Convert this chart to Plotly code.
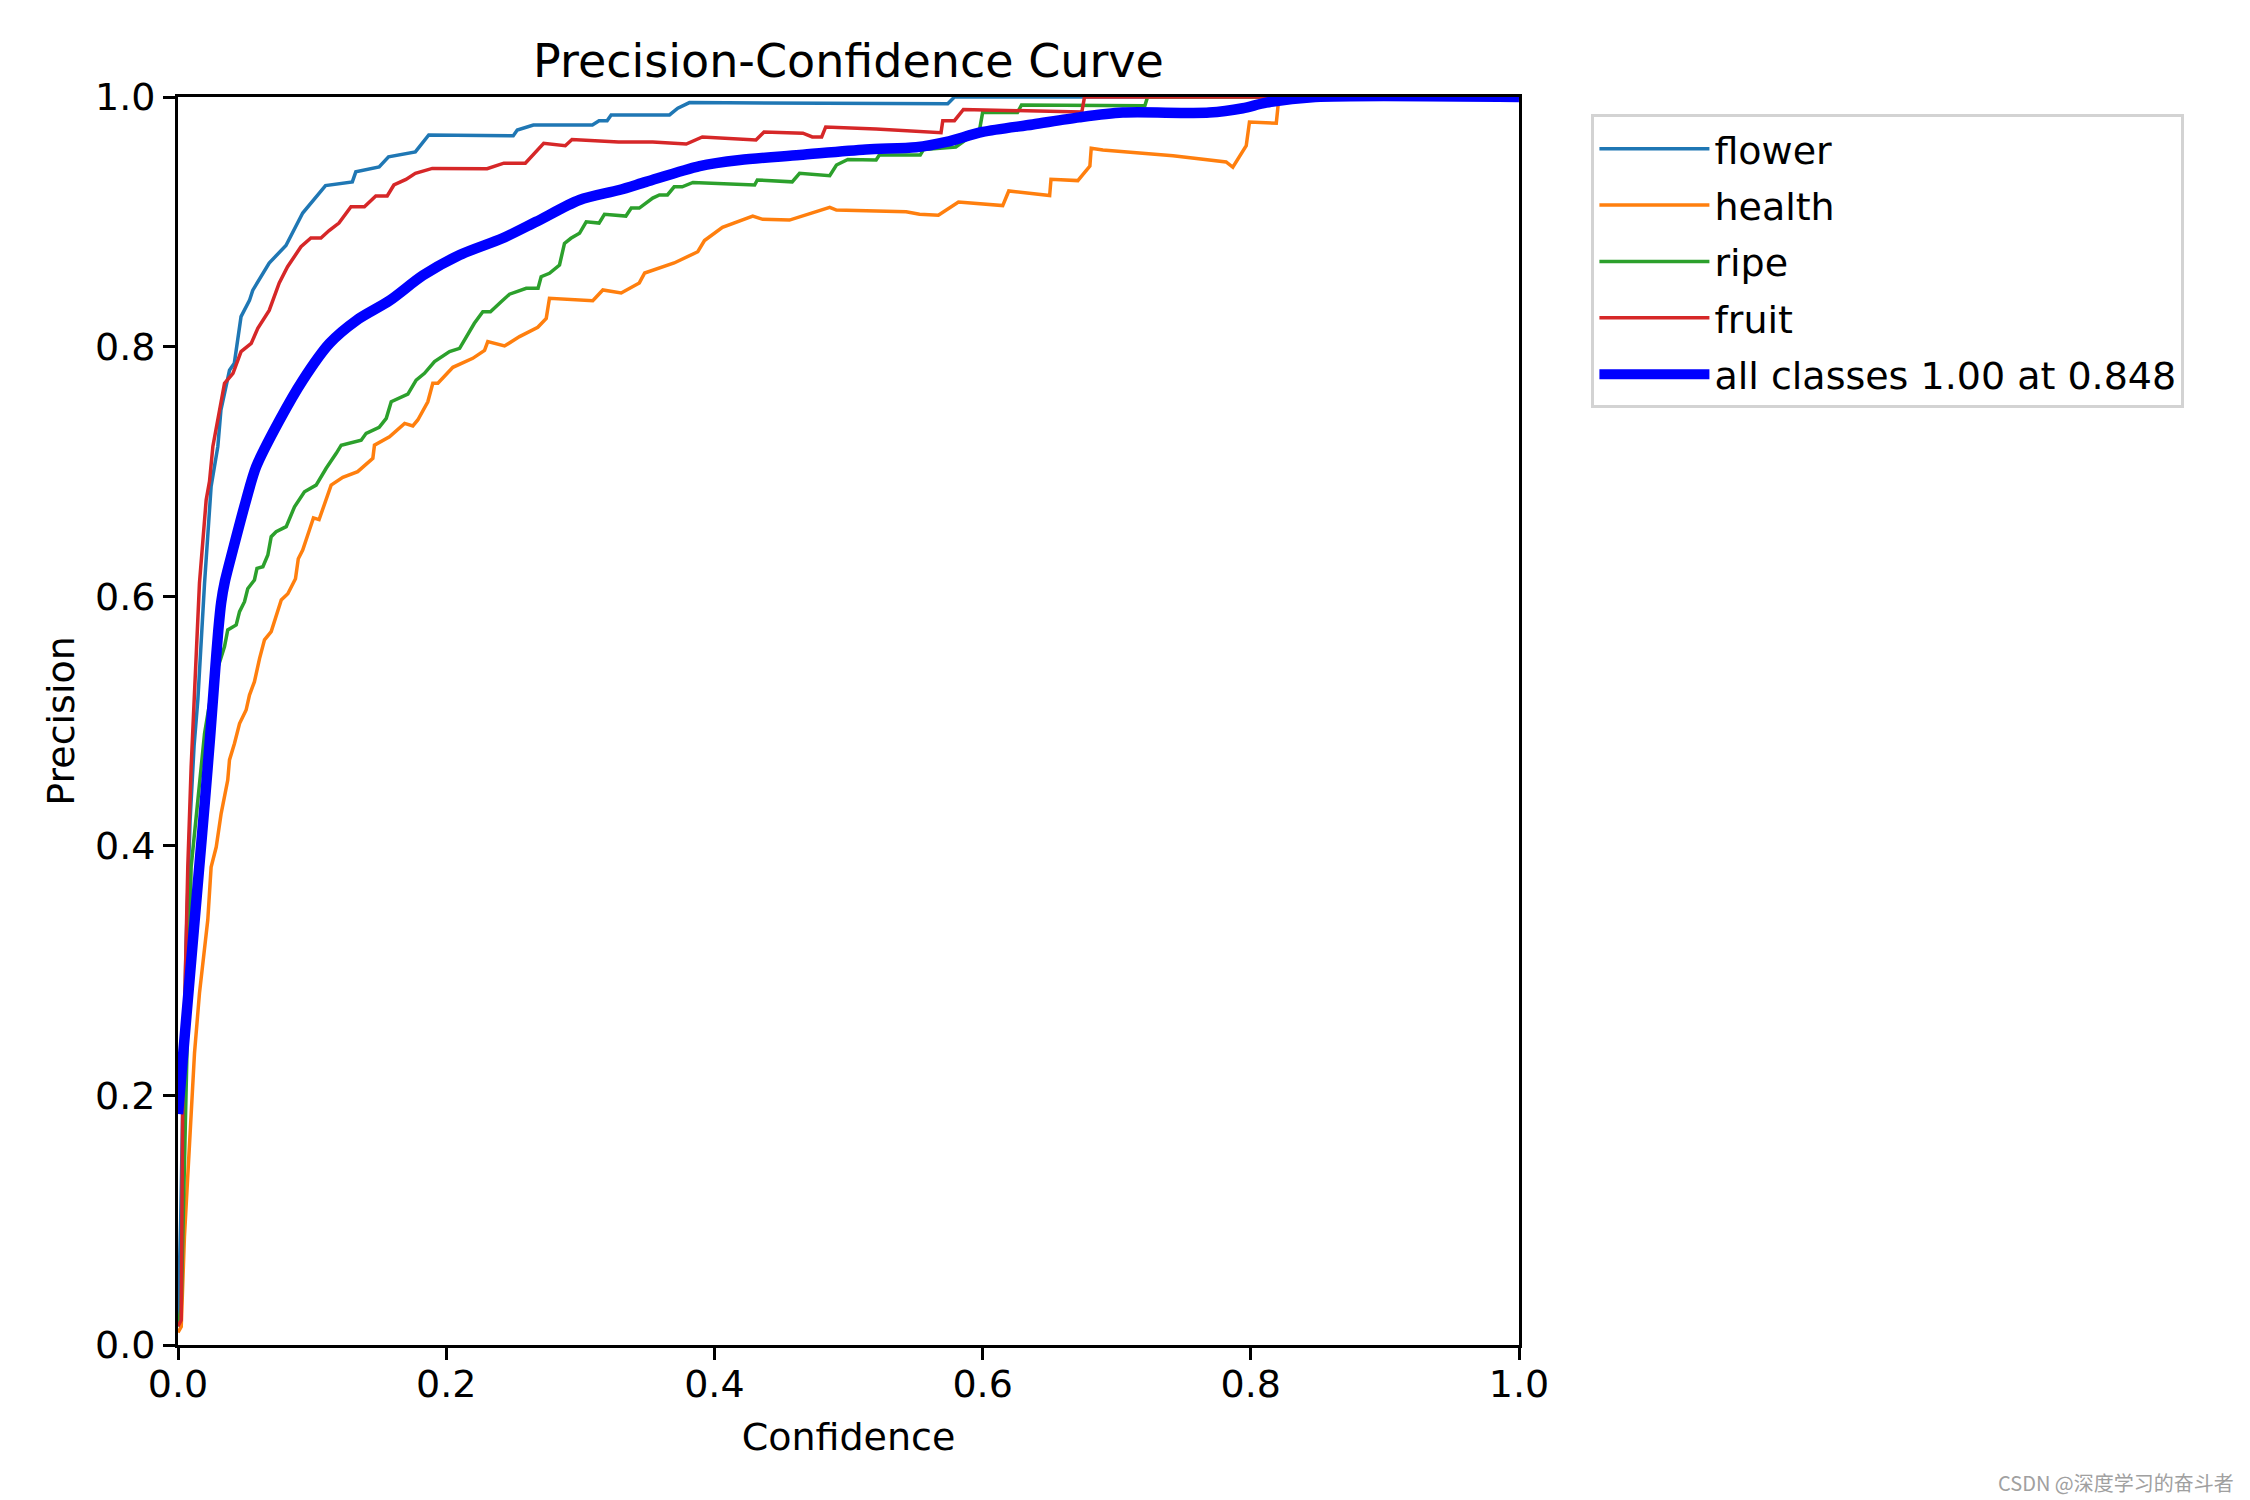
import plotly.graph_objects as go

# precision vs confidence
flower_x = [0.0, 0.002, 0.004, 0.006, 0.009, 0.012, 0.0148, 0.0198, 0.0247, 0.0297, 0.032, 0.0384, 0.042, 0.047,
            0.0533, 0.0557, 0.068, 0.0805, 0.093, 0.110, 0.130, 0.1326, 0.150, 0.157, 0.177, 0.187, 0.250, 0.253,
            0.265, 0.309, 0.314, 0.320, 0.323, 0.3665, 0.3727, 0.3814, 0.574, 0.579, 1.0]
flower_y = [0.015, 0.10, 0.22, 0.32, 0.42, 0.48, 0.517, 0.6105, 0.688, 0.720, 0.749, 0.781, 0.7866, 0.824,
            0.837, 0.845, 0.867, 0.881, 0.907, 0.929, 0.932, 0.940, 0.944, 0.952, 0.956, 0.9696, 0.969, 0.9735,
            0.9776, 0.9776, 0.981, 0.981, 0.9856, 0.9856, 0.991, 0.9955, 0.9946, 1.0, 1.0]

health_x = [0.0, 0.0024, 0.0048, 0.0086, 0.0123, 0.016, 0.0222, 0.0247, 0.0285, 0.0322, 0.0371, 0.0384, 0.0421,
            0.0459, 0.0508, 0.0533, 0.057, 0.0608, 0.0645, 0.0695, 0.0732, 0.077, 0.0819, 0.0876, 0.0897, 0.093,
            0.098, 0.101, 0.1052, 0.1092, 0.1142, 0.1229, 0.134, 0.1453, 0.1465, 0.1577, 0.169, 0.1751, 0.1788,
            0.1863, 0.190, 0.1938, 0.205, 0.2198, 0.2286, 0.231, 0.2435, 0.2547, 0.2683, 0.2746, 0.277, 0.3093,
            0.3168, 0.3305, 0.344, 0.348, 0.370, 0.3876, 0.3926, 0.406, 0.4286, 0.436, 0.456, 0.486, 0.491, 0.543,
            0.553, 0.567, 0.582, 0.615, 0.6195, 0.650, 0.651, 0.671, 0.680, 0.681, 0.6897, 0.742, 0.7705, 0.7816,
            0.7866, 0.7966, 0.799, 0.819, 0.821, 1.0]
health_y = [0.01, 0.0147, 0.0868, 0.167, 0.2337, 0.2818, 0.3405, 0.383, 0.399, 0.426, 0.4527, 0.4688, 0.482,
            0.498, 0.5088, 0.5208, 0.5315, 0.550, 0.565, 0.5716, 0.585, 0.597, 0.602, 0.614, 0.630, 0.637,
            0.653, 0.6627, 0.6613, 0.6744, 0.689, 0.6952, 0.6998, 0.7105, 0.721, 0.7278, 0.7385, 0.7364, 0.7412,
            0.7558, 0.7706, 0.7706, 0.7834, 0.7906, 0.797, 0.804, 0.8005, 0.808, 0.8155, 0.8226, 0.8387, 0.8368,
            0.8454, 0.843, 0.851, 0.859, 0.867, 0.876, 0.885, 0.8956, 0.9046, 0.902, 0.9014, 0.9116, 0.9094, 0.908,
            0.906, 0.9052, 0.9159, 0.913, 0.9247, 0.921, 0.934, 0.933, 0.9447, 0.959, 0.9575, 0.953, 0.949, 0.948,
            0.9437, 0.961, 0.980, 0.979, 1.0, 1.0]

ripe_x = [0.0, 0.0024, 0.0098, 0.016, 0.0198, 0.026, 0.0347, 0.0371, 0.0434, 0.0459, 0.0496, 0.052, 0.057, 0.0589,
          0.0633, 0.067, 0.0695, 0.0732, 0.0807, 0.0869, 0.0943, 0.103, 0.1105, 0.118, 0.1217, 0.1366, 0.1403,
          0.150, 0.1553, 0.159, 0.1714, 0.1776, 0.1838, 0.1913, 0.2025, 0.210, 0.215, 0.221, 0.2273, 0.233, 0.241,
          0.2472, 0.2597, 0.2685, 0.2708, 0.277, 0.2845, 0.2882, 0.293, 0.2994, 0.3044, 0.314, 0.318, 0.334, 0.338,
          0.344, 0.354, 0.359, 0.365, 0.370, 0.376, 0.384, 0.430, 0.432, 0.458, 0.4635, 0.486, 0.491, 0.4995,
          0.5206, 0.523, 0.5535, 0.556, 0.58, 0.5977, 0.600, 0.626, 0.629, 0.721, 0.723, 1.0]
ripe_y = [0.015, 0.03, 0.383, 0.450, 0.490, 0.53, 0.5596, 0.573, 0.577, 0.5876, 0.5956, 0.606, 0.613, 0.6223,
          0.6236, 0.633, 0.6477, 0.6517, 0.6557, 0.6717, 0.6837, 0.689, 0.7025, 0.7145, 0.721, 0.725, 0.7305,
          0.7353, 0.7425, 0.7558, 0.762, 0.7732, 0.7786, 0.788, 0.796, 0.7986, 0.808, 0.8187, 0.828, 0.828, 0.836,
          0.842, 0.8467, 0.8467, 0.856, 0.8587, 0.8654, 0.8827, 0.8868, 0.8908, 0.900, 0.899, 0.906, 0.9046, 0.911,
          0.911, 0.919, 0.9215, 0.9215, 0.928, 0.928, 0.9315, 0.9295, 0.9335, 0.932, 0.9389, 0.937, 0.9455, 0.950,
          0.9495, 0.9535, 0.9535, 0.958, 0.960, 0.9736, 0.9875, 0.9875, 0.9936, 0.993, 1.0, 1.0]

fruit_x = [0.0, 0.0024, 0.0036, 0.0061, 0.0073, 0.0098, 0.0123, 0.016, 0.021, 0.0235, 0.026, 0.0297, 0.0347,
           0.041, 0.047, 0.0546, 0.0595, 0.068, 0.0755, 0.0817, 0.0917, 0.0991, 0.1066, 0.1127, 0.120, 0.129,
           0.139, 0.1475, 0.156, 0.161, 0.170, 0.177, 0.1896, 0.2305, 0.243, 0.259, 0.2727, 0.2888, 0.2938,
           0.3285, 0.354, 0.379, 0.391, 0.431, 0.437, 0.466, 0.473, 0.480, 0.483, 0.5206, 0.563, 0.569, 0.5703,
           0.579, 0.5857, 0.672, 0.674, 0.676, 1.0]
fruit_y = [0.015, 0.02, 0.207, 0.3405, 0.383, 0.463, 0.517, 0.6105, 0.677, 0.692, 0.720, 0.7425, 0.7706,
           0.7786, 0.796, 0.8026, 0.8146, 0.829, 0.851, 0.864, 0.880, 0.887, 0.887, 0.893, 0.899, 0.912,
           0.912, 0.9207, 0.9207, 0.9295, 0.934, 0.9388, 0.9428, 0.9425, 0.947, 0.947, 0.9629, 0.961, 0.966,
           0.964, 0.964, 0.9623, 0.968, 0.9655, 0.972, 0.971, 0.968, 0.968, 0.976, 0.9744, 0.972, 0.9714, 0.981,
           0.981, 0.990, 0.9877, 0.988, 1.0, 1.0]

all_x = [0.0, 0.004, 0.008, 0.012, 0.016, 0.020, 0.024, 0.028, 0.030, 0.0322, 0.035, 0.0409, 0.0508, 0.0583,
         0.0757, 0.093, 0.113, 0.133, 0.158, 0.1826, 0.210, 0.242, 0.267, 0.2994, 0.329, 0.349, 0.389,
         0.419, 0.4635, 0.513, 0.5505, 0.573, 0.600, 0.6374, 0.672, 0.7045, 0.769, 0.794, 0.8115, 0.848, 1.0]
all_y = [0.185, 0.235, 0.285, 0.335, 0.385, 0.435, 0.488, 0.545, 0.572, 0.595, 0.612, 0.637, 0.677, 0.7038,
         0.741, 0.773, 0.8026, 0.821, 0.837, 0.857, 0.8734, 0.8868, 0.900, 0.9175, 0.9255, 0.932, 0.9447,
         0.9495, 0.9535, 0.958, 0.9597, 0.964, 0.972, 0.978, 0.9837, 0.9875, 0.9875, 0.991, 0.9955, 1.0, 1.0]

best_p = 1.00
best_conf = 0.848

classes = [
    ('flower', flower_x, flower_y, '#1f77b4'),
    ('health', health_x, health_y, '#ff7f0e'),
    ('ripe', ripe_x, ripe_y, '#2ca02c'),
    ('fruit', fruit_x, fruit_y, '#d62728'),
]

FONT = 'DejaVu Sans'

fig = go.Figure()
for name, xs, ys, col in classes:
    fig.add_trace(go.Scatter(x=xs, y=ys, mode='lines', name=name, legendgroup=name,
                             line=dict(color=col, width=3.5)))

fig.add_trace(go.Scatter(x=all_x, y=all_y, mode='lines', legendgroup='all',
                         name='all classes %.2f at %.3f' % (best_p, best_conf),
                         line=dict(color='#0000ff', width=10.5, shape='spline', smoothing=0.8)))

axis_style = dict(range=[0, 1], dtick=0.2, tickformat='.1f', showgrid=False, zeroline=False,
                  showline=True, mirror=True, linecolor='black', linewidth=2.8,
                  ticks='outside', ticklen=12, tickwidth=2.8, tickcolor='black',
                  tickfont=dict(family=FONT, size=38, color='black'))

fig.update_xaxes(title=dict(text='Confidence', font=dict(family=FONT, size=38, color='black'), standoff=19),
                 ticklabelstandoff=-9, **axis_style)
fig.update_yaxes(title=dict(text='Precision', font=dict(family=FONT, size=38, color='black'), standoff=9),
                 **axis_style)

fig.add_annotation(text='CSDN @深度学习的奋斗者', xref='paper', yref='paper', x=1.535, y=-0.1098,
                   xanchor='right', yanchor='middle', showarrow=False,
                   font=dict(family='Noto Sans CJK SC', size=20, color='#a0a0a0'))

# page body adds 8px, so margins are pulled in by that amount
fig.update_layout(
    width=2250, height=1500,
    margin=dict(l=170, r=739, t=89, b=163),
    paper_bgcolor='white', plot_bgcolor='white',
    title=dict(text='Precision-Confidence Curve', x=0.5, xref='paper', xanchor='center',
               y=1 - 53 / 1500, yref='container', yanchor='middle',
               font=dict(family=FONT, size=46, color='black')),
    legend=dict(x=1.054, y=0.986, xanchor='left', yanchor='top',
                font=dict(family=FONT, size=38, color='black'),
                bgcolor='white', bordercolor='#d3d3d3', borderwidth=3,
                traceorder='grouped', tracegroupgap=4, itemwidth=110),
    showlegend=True,
)

fig.write_html('out.html')
